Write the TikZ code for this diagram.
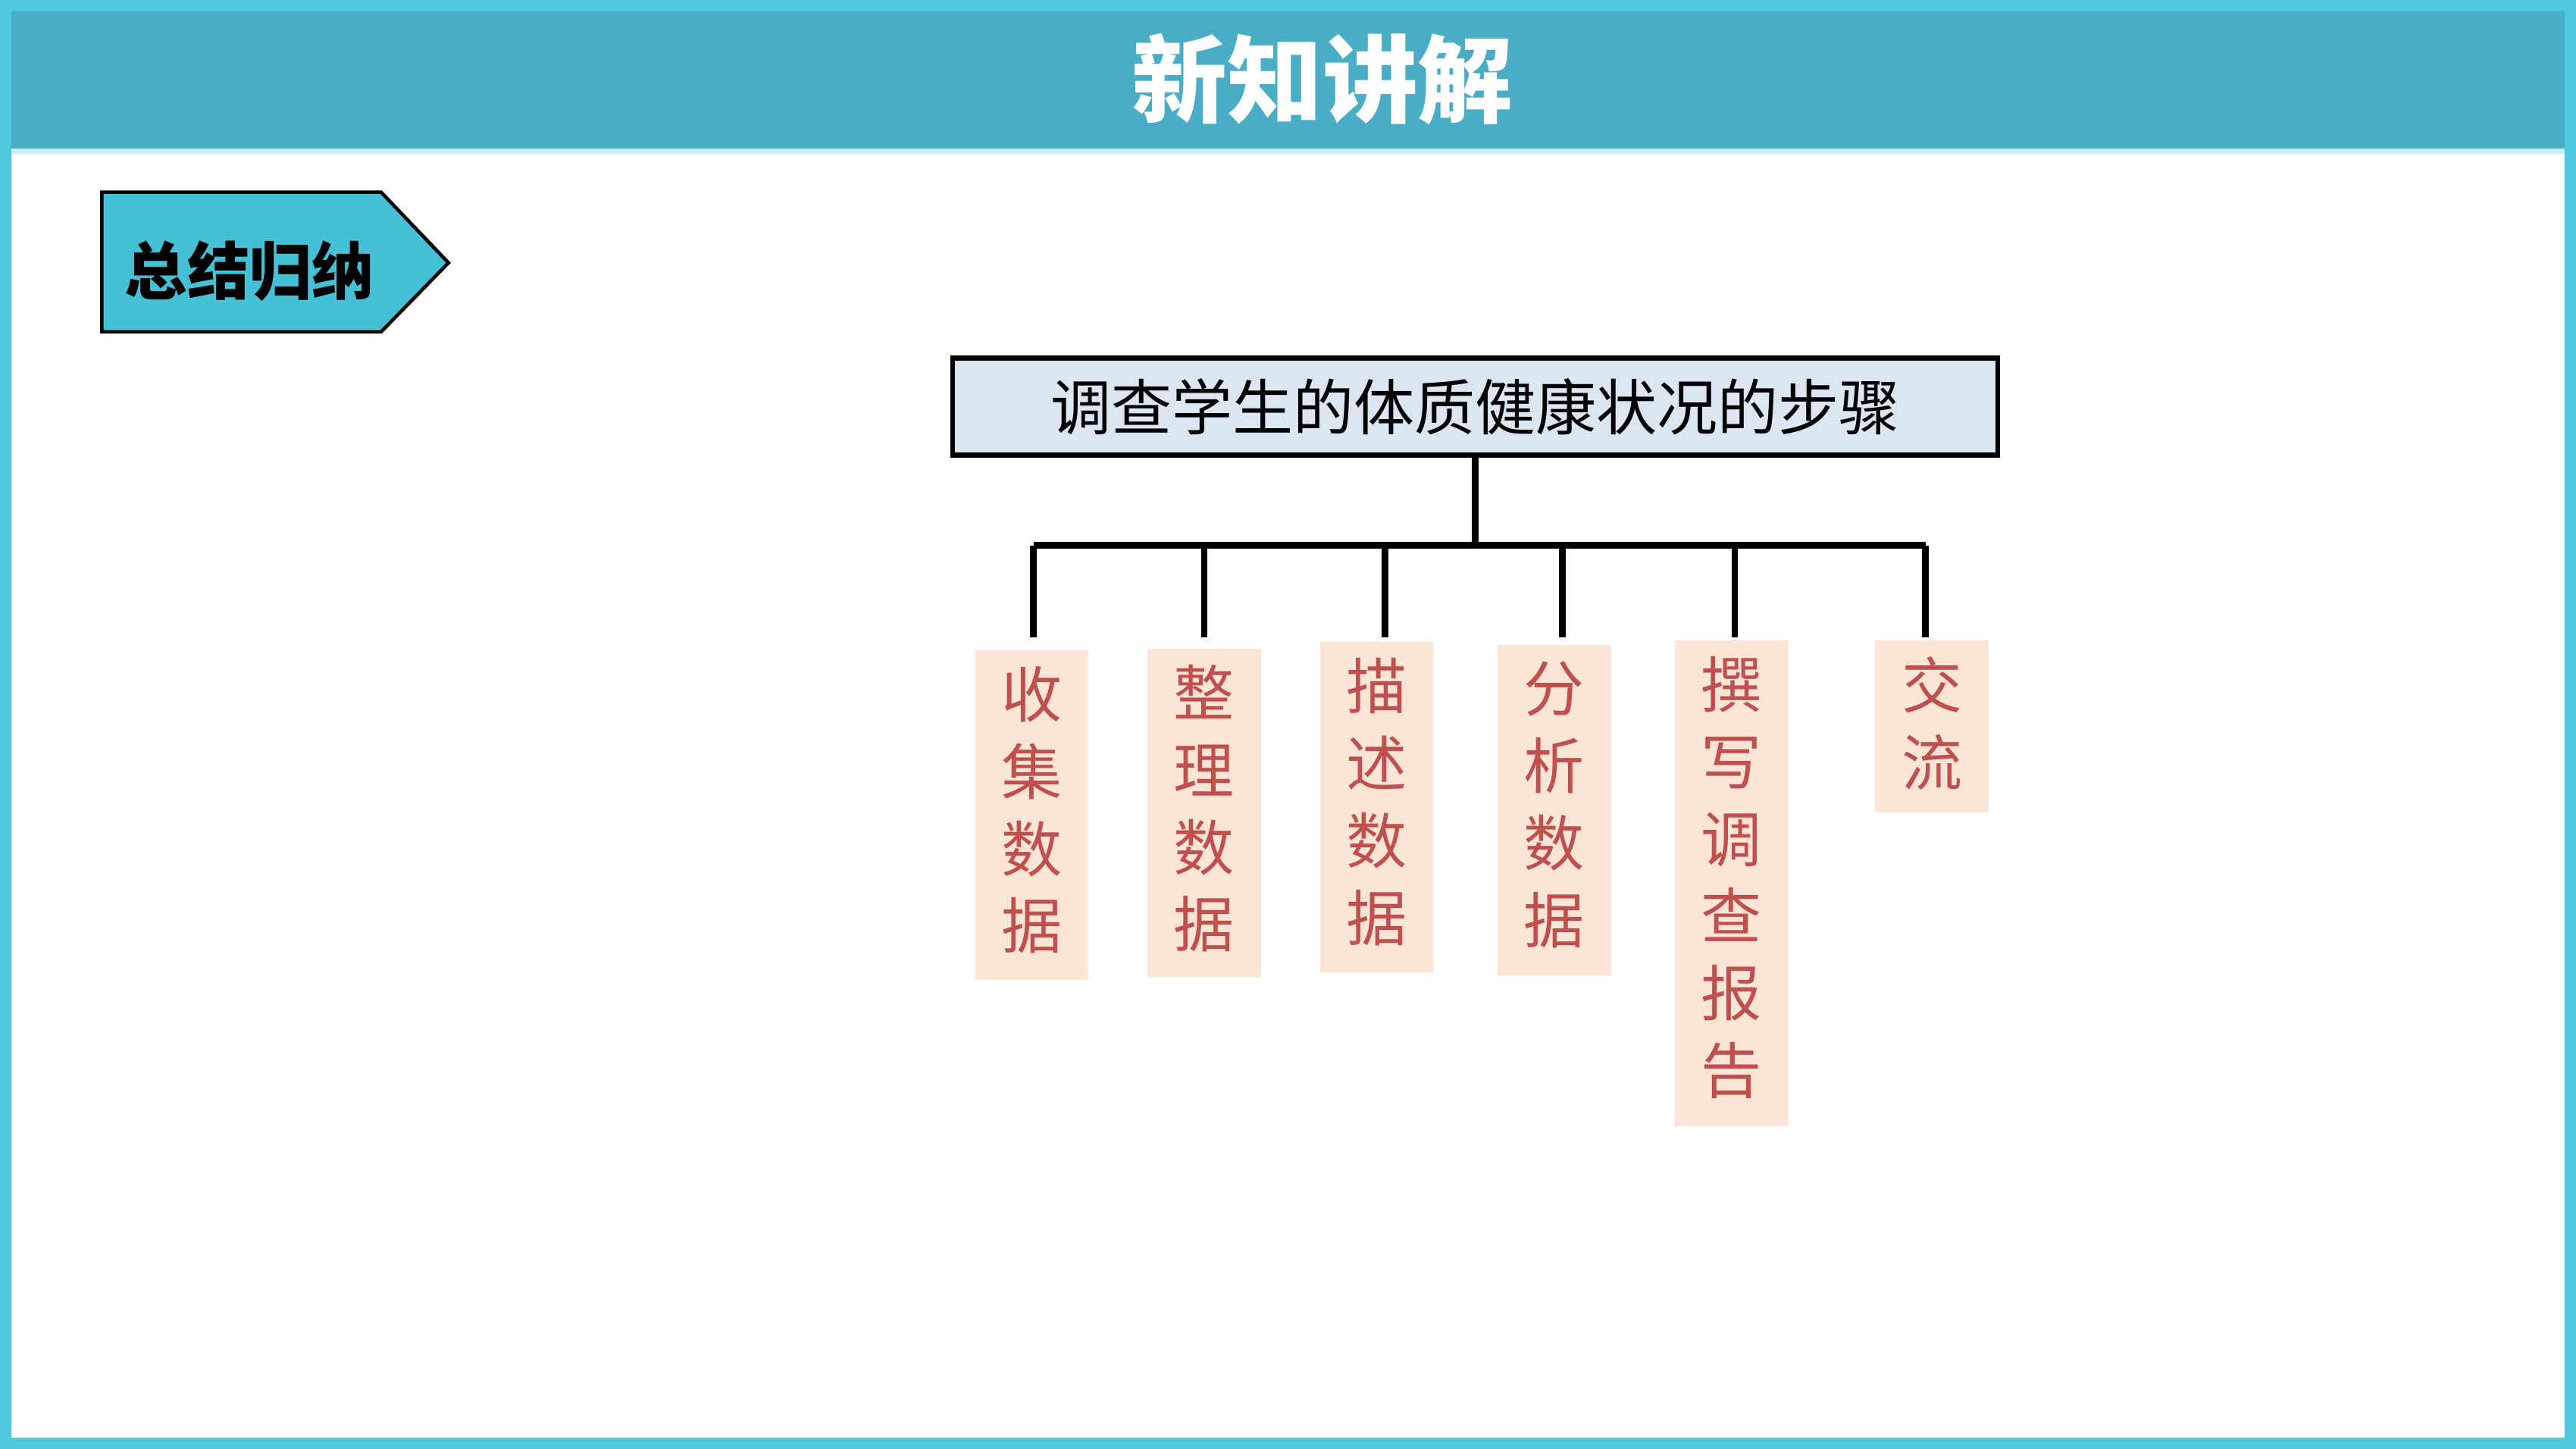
\documentclass[tikz,border=0pt]{standalone}
\usepackage{fontspec}
\newfontfamily\cjk{Noto Sans CJK SC}
\usetikzlibrary{shapes.geometric}
\definecolor{frame}{RGB}{80,200,222}
\definecolor{band}{RGB}{75,172,198}
\definecolor{tagc}{RGB}{70,192,212}
\definecolor{mainf}{RGB}{220,230,242}
\definecolor{stepf}{RGB}{252,228,214}
\definecolor{stept}{RGB}{192,80,77}
\begin{document}
\begin{tikzpicture}[x=0.01cm,y=-0.01cm,
  stepbox/.style={draw=none,fill=stepf,minimum width=0.69cm,anchor=north},
  steptxt/.style={text=stept,align=center,anchor=north,inner sep=0pt,font=\cjk\fontsize{10.5}{13.35}\selectfont},
  conn/.style={line width=1.1pt,black}]
\useasboundingbox (0,0) rectangle (1568,882);
\fill[white] (0,0) rectangle (1568,882);
\fill[band] (0,0) rectangle (1568,92);
\draw[white!70!frame,line width=1pt] (0,92) -- (1568,92);
\draw[frame,line width=0.07cm] (3.5,3.5) rectangle (1564.5,878.5);
\node[text=white,font=\cjk\bfseries\fontsize{16.5}{18}\selectfont] (title) at (805,48) {新知讲解};
\draw[fill=tagc,line width=0.6pt] (62,117) -- (232,117) -- (273,160) -- (232,202) -- (62,202) -- cycle;
\node[font=\cjk\bfseries\fontsize{10.8}{12}\selectfont] (tag) at (152,165) {总结归纳};
\node[draw,line width=0.8pt,fill=mainf,minimum width=6.36cm,minimum height=0.59cm,font=\cjk\fontsize{10.5}{12}\selectfont] (main) at (898,247.5) {调查学生的体质健康状况的步骤};
\coordinate (j) at (898,332);
\coordinate (l) at (629,332);
\coordinate (r) at (1172,332);
\foreach \n/\x/\y/\h/\t in {1/628/395/201/{收\\集\\数\\据},2/733/394/200/{整\\理\\数\\据},3/838/390/201/{描\\述\\数\\据},4/946/392/201/{分\\析\\数\\据},5/1054/389/296/{撰\\写\\调\\查\\报\\告},6/1176/389/105/{交\\流}}{
  \node[stepbox,minimum height=\h*0.01cm] (s\n) at (\x,\y) {};
  \node[steptxt] (t\n) at (\x,\y+10) {\t};
}
\draw[conn] (main.south) -- (j);
\draw[conn] (l) -- (r);
\foreach \n/\x in {1/629,2/733,3/843,4/951,5/1056,6/1172}{
  \coordinate (d\n) at (\x,332);
  \coordinate (e\n) at (\x,388);
  \draw[conn] (d\n) -- (e\n);
}
\end{tikzpicture}
\end{document}
